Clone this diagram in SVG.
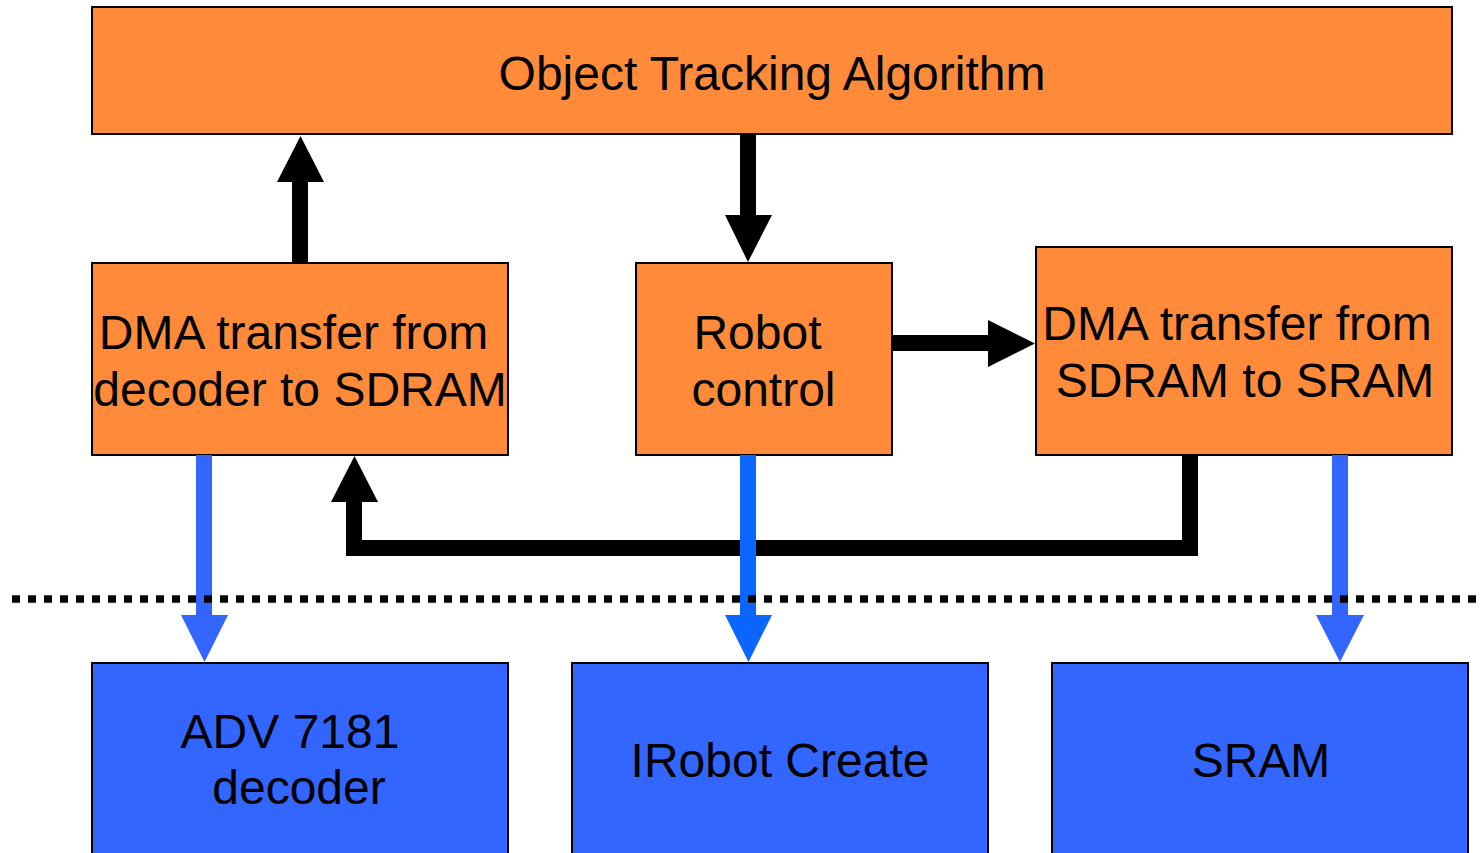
<svg xmlns="http://www.w3.org/2000/svg" width="1484" height="853" viewBox="0 0 1484 853">
  <style>
    .proc { fill: #FF8A3A; stroke: #000000; stroke-width: 2; }
    .dev { fill: #3366FF; stroke: #000000; stroke-width: 2; }
    .label { font-family: "Liberation Sans", Arial, sans-serif; font-size: 48px; fill: #000000; text-anchor: middle; }
    .ctl { fill: #000000; }
    .io { fill: #3366FF; }
    .io-mid { fill: #0A66FF; }
    .boundary { stroke: #000000; stroke-width: 7.5; stroke-dasharray: 8 8; fill: none; }
  </style>

  <rect width="1484" height="853" fill="#FFFFFF"/>

  <!-- software blocks -->
  <g id="object-tracking">
    <rect class="proc" x="92" y="7" width="1360" height="127"/>
    <text class="label" x="772" y="90">Object Tracking Algorithm</text>
  </g>
  <g id="dma-decoder-sdram">
    <rect class="proc" x="92" y="263" width="416" height="192"/>
    <text class="label" x="293.5" y="349">DMA transfer from</text>
    <text class="label" x="300" y="406">decoder to SDRAM</text>
  </g>
  <g id="robot-control">
    <rect class="proc" x="636" y="263" width="256" height="192"/>
    <text class="label" x="757.5" y="349">Robot</text>
    <text class="label" x="763.5" y="406">control</text>
  </g>
  <g id="dma-sdram-sram">
    <rect class="proc" x="1036" y="247" width="416" height="208"/>
    <text class="label" x="1237" y="340">DMA transfer from</text>
    <text class="label" x="1245" y="397">SDRAM to SRAM</text>
  </g>

  <!-- hardware blocks -->
  <g id="adv7181">
    <rect class="dev" x="92" y="663" width="416" height="200"/>
    <text class="label" x="290" y="748">ADV 7181</text>
    <text class="label" x="299" y="804">decoder</text>
  </g>
  <g id="irobot-create">
    <rect class="dev" x="572" y="663" width="416" height="200"/>
    <text class="label" x="780" y="777">IRobot Create</text>
  </g>
  <g id="sram">
    <rect class="dev" x="1052" y="663" width="416" height="200"/>
    <text class="label" x="1261" y="777">SRAM</text>
  </g>

  <!-- connectors -->
  <g id="connectors">
    <!-- DMA (decoder) -> tracking -->
    <polygon class="ctl" points="292,263 292,182 277,182 300.5,136 324,182 308,182 308,263"/>
    <!-- tracking -> robot control -->
    <polygon class="ctl" points="740,135 756,135 756,215 772,215 748,262 725,215 740,215"/>
    <!-- robot control -> DMA (SRAM) -->
    <polygon class="ctl" points="892,335 988,335 988,320 1035,343.5 988,367 988,351 892,351"/>
    <!-- DMA (SRAM) -> DMA (decoder) feedback -->
    <polyline points="1190,455 1190,548 354,548 354,502" fill="none" stroke="#000000" stroke-width="16" stroke-linejoin="miter"/>
    <polygon class="ctl" points="331,502 378,502 354.5,456"/>

    <!-- software -> hardware -->
    <polygon class="io" points="196,455 212,455 212,615 228,615 204.5,662 181,615 196,615"/>
    <polygon class="io-mid" points="740,455 756,455 756,615 772,615 748.5,662 725,615 740,615"/>
    <polygon class="io" points="1332,455 1348,455 1348,615 1364,615 1340,662 1316,615 1332,615"/>
  </g>

  <!-- software / hardware boundary -->
  <line class="boundary" x1="12" y1="599" x2="1484" y2="599"/>
</svg>
